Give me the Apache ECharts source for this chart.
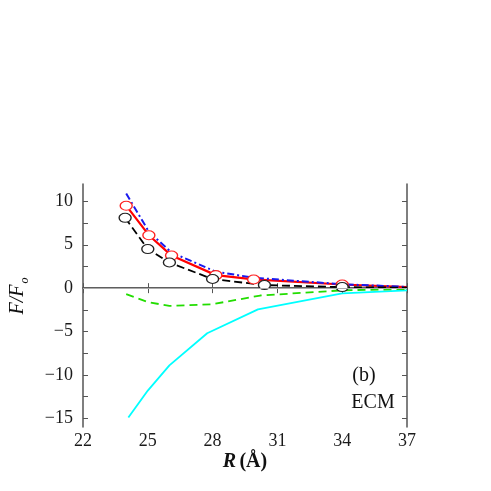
<!DOCTYPE html>
<html>
<head>
<meta charset="utf-8">
<script src="https://cdn.jsdelivr.net/npm/echarts@6/dist/echarts.min.js"></script>
<style>html,body{margin:0;padding:0;background:#fff;}#c{width:491px;height:491px;}</style>
</head>
<body>
<div id="c"></div>
<script>
var xTicks = [22, 25, 28, 31, 34, 37];
var yTickLabels = [-15, -10, -5, 0, 5, 10];
var yMinorTicks = [-15, -12.5, -10, -7.5, -5, -2.5, 0, 2.5, 5, 7.5, 10];

var redR = [24.0, 25.05, 26.1, 28.15, 29.9, 34.0, 37.0];
var redF = [9.5, 6.1, 3.75, 1.5, 1.0, 0.42, 0.12];
var blackR = [23.95, 25.0, 26.0, 28.0, 30.4, 34.0, 37.0];
var blackF = [8.1, 4.5, 2.95, 1.05, 0.35, 0.12, 0.05];
var blueR = [24.0, 25.05, 26.1, 28.15, 29.9, 34.0, 37.0];
var blueF = [10.9, 6.5, 4.1, 1.9, 1.2, 0.45, 0.15];
var greenR = [24.0, 25.0, 26.0, 28.0, 30.2, 34.0, 37.0];
var greenF = [-0.7, -1.6, -2.05, -1.85, -0.85, -0.25, -0.1];
var cyanR = [24.1, 25.0, 26.0, 27.75, 30.1, 34.0, 37.0];
var cyanF = [-14.9, -11.8, -8.9, -5.2, -2.45, -0.6, -0.25];

function pairs(xs, ys, markLast) {
  return xs.map(function (x, i) {
    var d = { value: [x, ys[i]] };
    if (markLast === false && i === xs.length - 1) d.symbol = 'none';
    return d;
  });
}

var font = 'Liberation Serif, Times New Roman, serif';
var axisColor = '#555';
var chart = echarts.init(document.getElementById('c'));
chart.setOption({
  animation: false,
  backgroundColor: '#fff',
  grid: { left: 83, right: 84, top: 184, bottom: 64, containLabel: false },
  xAxis: [
    {
      type: 'value', min: 22, max: 37, interval: 3, position: 'bottom',
      axisLine: { show: true, lineStyle: { color: axisColor, width: 1.5 } },
      axisTick: { show: true, inside: true, length: 5, lineStyle: { color: axisColor } },
      axisLabel: { fontFamily: font, fontSize: 18, color: '#1a1a1a', margin: 5 },
      splitLine: { show: false },
      name: '{i|R} {b|(Å)}', nameLocation: 'middle', nameGap: 25,
      nameTextStyle: {
        rich: {
          i: { fontFamily: font, fontStyle: 'italic', fontWeight: 'bold', fontSize: 20, color: '#111' },
          b: { fontFamily: font, fontWeight: 'bold', fontSize: 20, color: '#111' }
        }
      }
    },
    {
      type: 'value', min: 22, max: 37, interval: 3, position: 'top',
      axisLine: { show: true, lineStyle: { color: axisColor, width: 1.5 } },
      axisTick: { show: true, inside: true, length: 5, lineStyle: { color: axisColor } },
      axisLabel: { show: false }, splitLine: { show: false }
    }
  ],
  yAxis: [
    {
      type: 'value', min: -16, max: 12, position: 'left',
      axisLine: { show: true, lineStyle: { color: axisColor, width: 1.5 } },
      axisTick: { show: true, inside: true, length: 5, customValues: yMinorTicks, lineStyle: { color: axisColor } },
      axisLabel: { fontFamily: font, fontSize: 18, color: '#1a1a1a', margin: 10, customValues: yTickLabels,
        formatter: function (v) { return v < 0 ? '\u2212' + Math.abs(v) : String(v); } },
      splitLine: { show: false }
    },
    {
      type: 'value', min: -16, max: 12, position: 'right',
      axisLine: { show: true, lineStyle: { color: axisColor, width: 1.5 } },
      axisTick: { show: true, inside: true, length: 5, customValues: yMinorTicks, lineStyle: { color: axisColor } },
      axisLabel: { show: false }, splitLine: { show: false }
    }
  ],
  graphic: [
    {
      type: 'text', x: 18, y: 296, rotation: Math.PI / 2,
      style: {
        text: '{i|F/F}{s|o}', align: 'center', verticalAlign: 'middle',
        rich: {
          i: { fontFamily: font, fontStyle: 'italic', fontSize: 20, fill: '#111' },
          s: { fontFamily: font, fontStyle: 'italic', fontSize: 12, fill: '#111', padding: [14, 0, 0, 1] }
        }
      }
    },
    { type: 'text', x: 364, y: 376, style: { text: '(b)', font: '20px ' + font, fill: '#111', align: 'center', verticalAlign: 'middle' } },
    { type: 'text', x: 373, y: 403, style: { text: 'ECM', font: '20px ' + font, fill: '#111', align: 'center', verticalAlign: 'middle' } }
  ],
  series: [
    {
      type: 'line', data: pairs(cyanR, cyanF), showSymbol: false, symbol: 'none',
      lineStyle: { color: '#00ffff', width: 1.8 },
      markLine: { silent: true, symbol: 'none', label: { show: false },
        lineStyle: { color: '#aaa', width: 1, type: 'solid' }, data: [{ yAxis: 0 }] }
    },
    {
      type: 'line', data: pairs(greenR, greenF), symbol: 'none',
      lineStyle: { color: '#22dd00', width: 1.8, type: [8, 5] }
    },
    {
      type: 'line', data: pairs(redR, redF, false), symbol: 'circle', symbolSize: [12, 9],
      itemStyle: { color: '#fff', borderColor: '#ff2020', borderWidth: 1.2 },
      lineStyle: { color: '#ff0000', width: 2.2 }
    },
    {
      type: 'line', data: pairs(blueR, blueF), symbol: 'none',
      lineStyle: { color: '#1a1aee', width: 2, type: [7, 3, 2, 3] }
    },
    {
      type: 'line', data: pairs(blackR, blackF, false), symbol: 'circle', symbolSize: [12, 9],
      itemStyle: { color: '#fff', borderColor: '#222', borderWidth: 1.2 },
      lineStyle: { color: '#000', width: 1.8, type: [8, 4] }
    }
  ]
});
</script>
</body>
</html>
